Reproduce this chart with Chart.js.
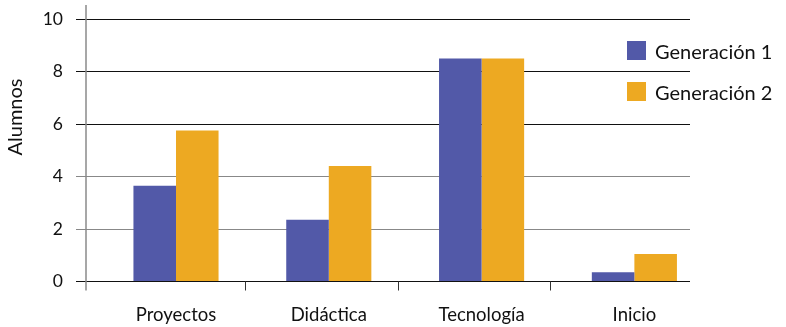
<!DOCTYPE html>
<html><head><meta charset="UTF-8">
<title>Alumnos por generación</title>
<script src="https://cdn.jsdelivr.net/npm/chart.js@4"></script>
<style>
  body { margin: 0; background: #fff; font-family: Lato, sans-serif; }
  .wrap { position: relative; width: 786px; height: 327px; }
  #legend { position: absolute; left: 627px; top: 41px; }
  #legend .item { display: flex; align-items: center; height: 19px; margin-bottom: 22px; font-size: 20px; color: #111; white-space: nowrap; }
  #legend .sw { width: 19px; height: 19px; margin-right: 9px; }
</style></head><body>
<div class="wrap">
  <canvas id="chart"></canvas>
  <div id="legend"></div>
</div>
<script>
const categories = ['Proyectos', 'Didáctica', 'Tecnología', 'Inicio'];
const seriesNames = ['Generación 1', 'Generación 2'];
const gen1 = [3.65, 2.35, 8.5, 0.35];
const gen2 = [5.75, 4.4, 8.5, 1.05];
const yTicks = [0, 2, 4, 6, 8, 10];
const colors = ['#5259a8', '#eda922'];

// y axis line (runs past the plot) + separators under the categories + y title
const frame = {
  id: 'frame',
  afterDraw(chart) {
    const { ctx, chartArea: a, scales: { x } } = chart;
    ctx.save();
    ctx.strokeStyle = '#8a8a8a';
    ctx.lineWidth = 1.5;
    ctx.beginPath();
    ctx.moveTo(a.left, a.top - 14);
    ctx.lineTo(a.left, a.bottom + 9);
    ctx.stroke();
    ctx.strokeStyle = '#333';
    ctx.lineWidth = 1;
    ctx.beginPath();
    for (let i = 1; i < categories.length; i++) {
      const px = Math.round(x.getPixelForValue(i - 0.55)) + 0.5;
      ctx.moveTo(px, a.bottom);
      ctx.lineTo(px, a.bottom + 9);
    }
    ctx.stroke();
    ctx.translate(15.5, 117);
    ctx.rotate(-Math.PI / 2);
    ctx.font = '20px Lato';
    ctx.fillStyle = '#111';
    ctx.textAlign = 'center';
    ctx.textBaseline = 'middle';
    ctx.fillText('Alumnos', 0, 0);
    ctx.restore();
  }
};

const chart = new Chart(document.getElementById('chart'), {
  type: 'bar',
  data: {
    datasets: [gen1, gen2].map((vals, i) => ({
      label: seriesNames[i],
      data: vals.map((v, j) => ({ x: j, y: v })),
      backgroundColor: colors[i],
      borderWidth: 0,
      barPercentage: 1,
      categoryPercentage: 0.557
    }))
  },
  options: {
    responsive: true,
    maintainAspectRatio: false,
    animation: false,
    layout: { padding: { top: 19, right: 96, bottom: 0, left: 0 } },
    plugins: { legend: { display: false }, tooltip: { enabled: false } },
    scales: {
      x: {
        type: 'linear',
        min: -0.589,
        max: 3.364,
        offset: false,
        afterBuildTicks: s => { s.ticks = categories.map((c, i) => ({ value: i })); },
        afterFit: s => { s.height = 45.5; },
        ticks: {
          callback: v => categories[v],
          color: '#111',
          font: { family: 'Lato', size: 18.5 },
          padding: 14,
          maxRotation: 0,
          autoSkip: false
        },
        grid: { display: false },
        border: { display: false }
      },
      y: {
        min: 0,
        max: 10,
        afterBuildTicks: s => { s.ticks = yTicks.map(v => ({ value: v })); },
        afterFit: s => { s.width = 86; s.paddingTop = 0; s.paddingBottom = 0; },
        ticks: { color: '#111', font: { family: 'Lato', size: 17.5 }, padding: 13 },
        grid: {
          color: c => (c.tick && (c.tick.value === 2 || c.tick.value === 4)) ? '#888' : '#111',
          tickLength: 10,
          lineWidth: 1
        },
        border: { display: false }
      }
    }
  },
  plugins: [frame]
});

document.getElementById('legend').innerHTML = chart.data.datasets.map(d =>
  `<div class="item"><span class="sw" style="background:${d.backgroundColor}"></span>${d.label}</div>`
).join('');
</script>
</body></html>
